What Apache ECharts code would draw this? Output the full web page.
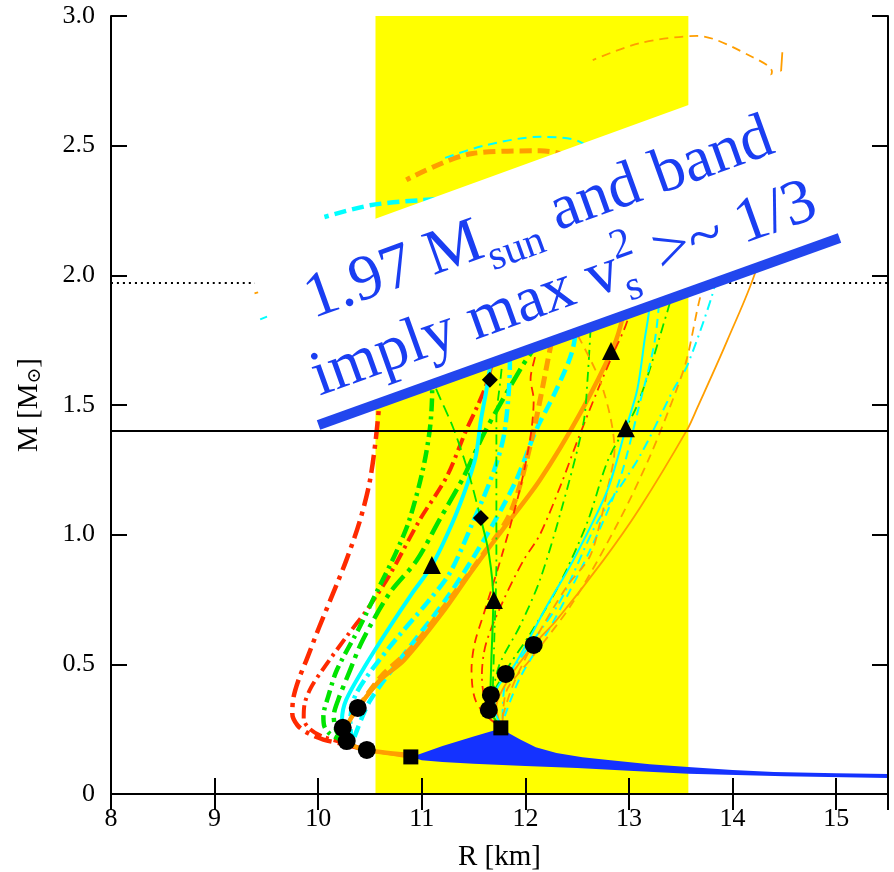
<!DOCTYPE html>
<html>
<head>
<meta charset="utf-8">
<script src="https://cdn.jsdelivr.net/npm/echarts@6/dist/echarts.min.js"></script>
<style>
  html, body { margin: 0; padding: 0; background: #fff; }
  #chart { width: 894px; height: 872px; }
</style>
</head>
<body>
<div id="chart"></div>
<script>
// ---- Axis ranges and ticks ----
const rRange = [8, 15.5];
const mRange = [0, 3];
const rTickStep = 1;
const mTickStep = 0.5;

// ---- Reference lines ----
const mCanonical = 1.4;       // solid horizontal line
const mObserved = 1.97;       // dotted horizontal line

// ---- Radius band (yellow) ----
const bandRadius = [10.553, 13.573];

// ---- Low-mass envelope (blue band) ----
const envTop = [[10.9,0.143],[11.2,0.185],[11.5,0.222],[11.77,0.254],[11.85,0.232],[11.95,0.21],[12.1,0.18],[12.3,0.158],[12.55,0.142],[12.8,0.131],[13.2,0.115],[13.57,0.104],[14.0,0.093],[14.4,0.085],[15.0,0.08],[15.5,0.077]];
const envBottom = [[10.9,0.143],[11.0,0.13],[11.2,0.123],[11.5,0.117],[12.0,0.108],[12.5,0.1],[13.0,0.09],[13.57,0.078],[14.5,0.068],[15.5,0.062]];

// ---- Mass-radius curves, softer family (thick lines) ----
const redThickOuter = [[10.45,0.172],[10.27,0.19],[10.05,0.21],[9.9,0.235],[9.8,0.265],[9.75,0.31],[9.76,0.37],[9.81,0.44],[9.89,0.52],[10.01,0.644],[10.15,0.78],[10.27,0.9],[10.4,1.05],[10.5,1.21],[10.57,1.42],[10.6,1.6],[10.58,1.8],[10.5,1.92]];
const redThickInner = [[10.27,0.195],[10.05,0.22],[9.92,0.25],[9.86,0.29],[9.87,0.35],[9.93,0.41],[10.04,0.478],[10.27,0.605],[10.47,0.71],[10.69,0.845],[10.98,1.057],[11.24,1.223],[11.43,1.404],[11.53,1.49],[11.64,1.6],[11.7,1.75],[11.68,1.9]];
const greenThickA = [[10.27,0.2],[10.12,0.23],[10.06,0.26],[10.05,0.3],[10.1,0.38],[10.18,0.478],[10.4,0.644],[10.59,0.8],[10.75,0.93],[10.88,1.057],[11.01,1.25],[11.08,1.415],[11.1,1.56],[11.08,1.75],[11.0,1.88]];
const greenThickB = [[10.27,0.2],[10.18,0.24],[10.15,0.3],[10.19,0.36],[10.3,0.47],[10.43,0.594],[10.69,0.775],[10.95,0.9],[11.17,1.057],[11.4,1.22],[11.6,1.39],[11.78,1.52],[11.97,1.65],[12.11,1.74],[12.2,1.85]];
const cyanThickSolid = [[10.3,0.195],[10.24,0.24],[10.23,0.285],[10.27,0.363],[10.47,0.505],[10.69,0.644],[10.9,0.77],[11.1,0.883],[11.3,1.05],[11.43,1.184],[11.52,1.3],[11.57,1.44],[11.64,1.597],[11.68,1.75],[11.65,1.9]];
const cyanThickDashDot = [[10.32,0.2],[10.31,0.28],[10.37,0.39],[10.69,0.567],[11.05,0.737],[11.27,0.852],[11.49,1.045],[11.7,1.25],[11.8,1.4],[11.85,1.66],[11.85,1.85]];
const cyanThickDash = [[10.35,0.22],[10.5,0.36],[10.85,0.55],[11.25,0.76],[11.6,0.98],[11.9,1.2],[12.1,1.4],[12.3,1.56],[12.46,1.72],[12.5,1.9],[12.35,2.15],[11.7,2.3],[11.0,2.29],[10.5,2.27],[10.06,2.225]];
const orangeThickSolid = [[10.9,0.15],[10.6,0.162],[10.37,0.18],[10.28,0.22],[10.29,0.27],[10.38,0.33],[10.6,0.44],[10.83,0.517],[11.2,0.7],[11.49,0.864],[11.8,1.03],[12.14,1.211],[12.53,1.469],[12.85,1.724],[12.94,1.84],[12.98,1.95],[12.9,2.1]];
const orangeThickDash = [[10.38,0.33],[10.6,0.45],[10.91,0.567],[11.25,0.74],[11.53,0.89],[11.85,1.08],[12.05,1.35],[12.24,1.72],[12.35,1.95],[12.45,2.25],[12.4,2.45],[12.14,2.48],[11.49,2.47],[10.85,2.368]];
const crustLeft = [[10.24,0.215],[10.3,0.19],[10.47,0.17],[10.7,0.155],[10.9,0.143]];

// ---- Mass-radius curves, stiffer family (thin lines) ----
const crustRight = [[11.76,0.255],[11.7,0.29],[11.65,0.324]];
const redThinDash = [[11.72,0.27],[11.6,0.31],[11.52,0.36],[11.49,0.41],[11.48,0.48],[11.51,0.58],[11.61,0.71],[11.78,0.93],[11.95,1.18],[12.05,1.38],[12.08,1.52],[12.05,1.6],[12.1,1.7],[12.12,1.8]];
const redThinDashDot = [[11.68,0.3],[11.6,0.38],[11.58,0.46],[11.62,0.58],[11.78,0.74],[11.98,0.9],[12.14,1.0],[12.35,1.2],[12.5,1.36],[12.7,1.56],[12.85,1.7],[12.98,1.82],[13.05,1.95]];
const greenThinSolid = [[11.74,0.27],[11.66,0.33],[11.67,0.5],[11.69,0.75],[11.65,0.92],[11.57,1.06]];
const greenThinDash = [[11.57,1.06],[11.45,1.24],[11.3,1.415],[11.14,1.56],[11.0,1.7]];
const greenThinDotA = [[11.68,0.33],[11.7,0.6],[11.72,0.9],[11.72,1.2],[11.72,1.44],[11.76,1.6],[11.8,1.75]];
const greenThinDotB = [[11.68,0.38],[11.75,0.5],[11.95,0.65],[12.14,0.825],[12.35,1.1],[12.56,1.43],[12.6,1.6],[12.63,1.8]];
const greenThinDotC = [[11.7,0.4],[11.85,0.5],[12.05,0.62],[12.33,0.81],[12.6,1.05],[12.8,1.29],[13.08,1.5],[13.37,1.86],[13.45,1.98]];
const cyanThinSolid = [[11.76,0.27],[11.7,0.33],[11.73,0.41],[11.9,0.5],[12.2,0.72],[12.46,0.9],[12.79,1.17],[12.97,1.41],[13.08,1.56],[13.15,1.75],[13.2,1.9],[13.1,2.1],[12.0,2.2],[10.5,2.0],[9.5,1.84],[9.44,1.83]];
const cyanThinDashDot = [[11.78,0.29],[11.8,0.42],[12.0,0.55],[12.33,0.74],[12.69,1.045],[13.1,1.3],[13.43,1.56],[13.56,1.65],[13.8,1.92],[13.95,2.15]];
const cyanThinDash = [[11.8,0.3],[11.95,0.45],[12.25,0.65],[12.6,0.92],[12.9,1.2],[13.1,1.5],[13.25,1.75],[13.3,2.0],[13.1,2.3],[12.55,2.51],[12.14,2.534],[11.6,2.5],[11.17,2.445]];
const orangeThinSolid = [[11.76,0.26],[11.72,0.336],[11.85,0.45],[12.08,0.575],[12.3,0.67],[12.75,0.9],[13.1,1.1],[13.56,1.404],[13.66,1.49],[13.95,1.75],[14.25,2.05],[14.4,2.4],[14.47,2.8],[14.48,2.86]];
const orangeThinDash = [[11.78,0.28],[11.82,0.4],[12.05,0.52],[12.46,0.74],[12.9,1.05],[13.2,1.3],[13.46,1.56],[13.56,1.68],[13.69,1.92],[14.0,2.35],[14.28,2.7],[14.38,2.785],[14.2,2.84],[13.66,2.923],[13.1,2.895],[12.65,2.83]];
const orangeThinDash2 = [[11.78,0.3],[11.88,0.42],[12.1,0.6],[12.4,0.8],[12.62,0.914],[12.72,1.045],[12.79,1.17],[12.86,1.327],[12.75,1.56],[12.53,1.75],[12.3,1.9],[11.0,2.1],[10.0,2.0],[9.38,1.93]];

// ---- Point markers ----
const circlePts = [[10.237,0.255],[10.275,0.204],[10.382,0.332],[10.469,0.170],[11.647,0.324],[11.667,0.382],[11.81,0.463],[12.08,0.575]];
const squarePts = [[10.894,0.143],[11.763,0.255]];
const trianglePts = [[11.097,0.883],[11.696,0.748],[12.826,1.708],[12.97,1.41]];
const diamondPts = [[11.57,1.064],[11.657,1.597]];

// ---- Annotation: bound line and its label panel ----
const boundLine = [[10.003,1.423],[15.032,2.144]];
const labelPanel = [[9.323,2.040],[15.454,2.930],[15.454,2.205],[9.903,1.409]];
const labelLine1 = ['1.97 M', 'sun', ' and band'];
const labelLine2 = ['imply max v', 's', '2', ' >~ 1/3'];

// ---- Styling ----
const SERIF = '"Liberation Serif", "Times New Roman", "DejaVu Serif", serif';
const RED = '#ff2a00', GREEN = '#00e400', CYAN = '#00ffff', ORANGE = '#ff9e00';
const YELLOW = '#ffff00', BAND_BLUE = '#1432ff', LINE_BLUE = '#2246ee', TEXT_BLUE = '#1a3ef2';
const DASH_DOT_LONG = [18, 6, 4, 6];
const DASH_DOT = [13, 5, 3, 5];
const DASH = [12, 6];
const THIN_DASH_DOT = [10, 5, 2, 5];
const THIN_DASH = [9, 6];

function curve(pts, color, width, type, z) {
  return {
    type: 'line', data: pts, symbol: 'none', showSymbol: false, smooth: 0.3, silent: true,
    lineStyle: { color: color, width: width, type: type || 'solid', cap: 'butt', join: 'round' },
    z: z || 3
  };
}
function polygon(pts, color, z) {
  return {
    type: 'custom', coordinateSystem: 'cartesian2d', silent: true, z: z,
    data: [pts[0]],
    renderItem: function (params, api) {
      return {
        type: 'polygon',
        shape: { points: pts.map(function (p) { return api.coord(p); }) },
        style: { fill: color }
      };
    }
  };
}
function markers(pts, symbol, size) {
  return {
    type: 'scatter', data: pts, symbol: symbol, symbolSize: size, silent: true, z: 4,
    itemStyle: { color: '#000', opacity: 1 }
  };
}

const axisLineStyle = { lineStyle: { color: '#000', width: 2 } };
const tickStyle = { inside: true, length: 16, lineStyle: { color: '#000', width: 2 } };

const chart = echarts.init(document.getElementById('chart'));
chart.setOption({
  animation: false,
  backgroundColor: '#fff',
  grid: { left: 111, right: 6, top: 16, bottom: 78, containLabel: false, outerBoundsMode: 'none' },
  xAxis: [
    {
      type: 'value', min: rRange[0], max: rRange[1], interval: rTickStep, z: 20,
      axisLine: axisLineStyle, axisTick: tickStyle, splitLine: { show: false },
      axisLabel: {
        color: '#000', fontFamily: SERIF, fontSize: 26, margin: 12,
        formatter: function (v) { return v % 1 === 0 ? String(v) : ''; }
      },
      name: 'R [km]', nameLocation: 'middle', nameGap: 49,
      nameTextStyle: { color: '#000', fontFamily: SERIF, fontSize: 29 }
    },
    {
      type: 'value', position: 'top', min: rRange[0], max: rRange[1], interval: rTickStep, z: 20,
      axisLine: axisLineStyle, axisTick: tickStyle, splitLine: { show: false },
      axisLabel: { show: false }
    }
  ],
  yAxis: [
    {
      type: 'value', min: mRange[0], max: mRange[1], interval: mTickStep, z: 20,
      axisLine: axisLineStyle, axisTick: tickStyle, splitLine: { show: false },
      axisLabel: {
        color: '#000', fontFamily: SERIF, fontSize: 26, margin: 16,
        formatter: function (v) { return v === 0 ? '0' : v.toFixed(1); }
      },
      name: 'M [M{sub|\u2299}]', nameLocation: 'middle', nameGap: 66, nameRotate: 90,
      nameTextStyle: {
        color: '#000', fontFamily: SERIF, fontSize: 29,
        rich: { sub: { fontFamily: SERIF, fontSize: 19, color: '#000', padding: [12, 0, 0, 0] } }
      }
    },
    {
      type: 'value', position: 'right', min: mRange[0], max: mRange[1], interval: mTickStep, z: 20,
      axisLine: axisLineStyle, axisTick: tickStyle, splitLine: { show: false },
      axisLabel: { show: false }
    }
  ],
  series: [
    polygon([[bandRadius[0], mRange[0]], [bandRadius[1], mRange[0]], [bandRadius[1], mRange[1]], [bandRadius[0], mRange[1]]], YELLOW, 1),
    polygon(envTop.concat(envBottom.slice().reverse()), BAND_BLUE, 2),
    curve([[rRange[0], mObserved], [rRange[1], mObserved]], '#000', 2, [2, 4], 3),

    curve(redThickOuter, RED, 4.5, DASH_DOT_LONG),
    curve(redThickInner, RED, 4, DASH_DOT),
    curve(greenThickA, GREEN, 4.5, DASH_DOT),
    curve(greenThickB, GREEN, 4.5, DASH_DOT_LONG),
    curve(cyanThickDash, CYAN, 4.5, DASH),
    curve(cyanThickDashDot, CYAN, 4.5, DASH_DOT),
    curve(orangeThickDash, ORANGE, 5, DASH),
    curve(orangeThickSolid, ORANGE, 4.5),
    curve(cyanThickSolid, CYAN, 4),
    curve(crustLeft, ORANGE, 3.5),

    curve(crustRight, ORANGE, 2),
    curve(redThinDash, RED, 1.8, THIN_DASH),
    curve(redThinDashDot, RED, 1.8, THIN_DASH_DOT),
    curve(greenThinDotA, GREEN, 1.8, THIN_DASH_DOT),
    curve(greenThinDotB, GREEN, 1.8, THIN_DASH_DOT),
    curve(greenThinDotC, GREEN, 1.8, THIN_DASH_DOT),
    curve(cyanThinDashDot, CYAN, 2, THIN_DASH_DOT),
    curve(cyanThinDash, CYAN, 2, THIN_DASH),
    curve(orangeThinDash, ORANGE, 1.8, THIN_DASH),
    curve(orangeThinDash2, ORANGE, 1.8, THIN_DASH),
    curve(orangeThinSolid, ORANGE, 1.8),
    curve(cyanThinSolid, CYAN, 2),
    curve(greenThinSolid, GREEN, 2),
    curve(greenThinDash, GREEN, 1.8, [12, 6]),

    markers(circlePts, 'circle', 18),
    markers(squarePts, 'rect', 15),
    markers(trianglePts, 'triangle', 18),
    markers(diamondPts, 'diamond', 16),

    polygon(labelPanel, '#fff', 5),
    curve([[rRange[0], mCanonical], [rRange[1], mCanonical]], '#000', 2, 'solid', 6),
    curve(boundLine, LINE_BLUE, 10, 'solid', 6)
  ]
});

// ---- Rotated two-line label above the bound line ----
const measureCtx = document.createElement('canvas').getContext('2d');
function textWidth(s, size) { measureCtx.font = size + 'px ' + SERIF; return measureCtx.measureText(s).width; }
function piece(text, x, baseline, size) {
  return {
    type: 'text', x: x, y: baseline - 0.3375 * size, z: 100,
    style: { text: text, font: size + 'px ' + SERIF, fill: TEXT_BLUE, align: 'left', verticalAlign: 'middle',
             textAlign: 'left', textVerticalAlign: 'middle' }
  };
}
const BIG = 64, SMALL = 42;
const p0 = chart.convertToPixel({ gridIndex: 0 }, boundLine[0]);
const p1 = chart.convertToPixel({ gridIndex: 0 }, boundLine[1]);
const angle = Math.atan2(p0[1] - p1[1], p1[0] - p0[0]);

const l1a = 0, l1b = l1a + textWidth(labelLine1[0], BIG) + 1, l1c = l1b + textWidth(labelLine1[1], SMALL);
const line2Start = -20, line2Base = 75;
const l2b = line2Start + textWidth(labelLine2[0], BIG) + 1;
const l2c = l2b + Math.max(textWidth(labelLine2[1], SMALL), textWidth(labelLine2[2], SMALL)) + 2;

chart.setOption({
  graphic: [{
    type: 'group', x: p0[0] - 4, y: p0[1] - 102, rotation: angle, z: 100,
    children: [
      piece(labelLine1[0], l1a, 0, BIG),
      piece(labelLine1[1], l1b, 14, SMALL),
      piece(labelLine1[2], l1c, 0, BIG),
      piece(labelLine2[0], line2Start, line2Base, BIG),
      piece(labelLine2[1], l2b, line2Base + 14, SMALL),
      piece(labelLine2[2], l2b, line2Base - 30, SMALL),
      piece(labelLine2[3], l2c, line2Base, BIG)
    ]
  }]
});
</script>
</body>
</html>
